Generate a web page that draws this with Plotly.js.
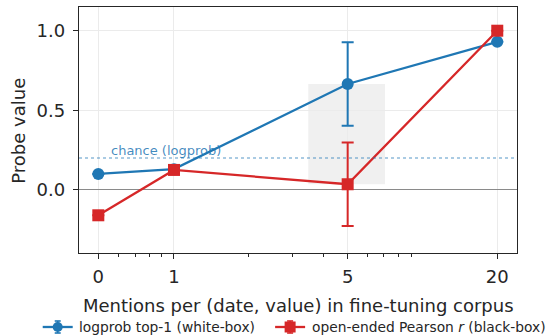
<!DOCTYPE html>
<html>
<head>
<meta charset="utf-8">
<script src="https://cdn.plot.ly/plotly-3.0.1.min.js"></script>
<style>html,body{margin:0;padding:0;background:#fff;}#chart{width:552px;height:336px;}</style>
</head>
<body>
<div id="chart"></div>
<script>
// ---- data ----
const mentions = [0, 1, 5, 20];
const tickLabels = ["0", "1", "5", "20"];
const logprobTop1 = [0.10, 0.13, 0.665, 0.93];
const logprobErr = [0, 0, 0.262, 0];
const pearsonR = [-0.16, 0.125, 0.035, 1.0];
const pearsonErr = [0, 0, 0.262, 0];
const chanceLevel = 0.2;
const minorLinear = [0.27, 0.485, 0.67, 0.84];
const minorLog = [2, 3, 4, 6, 7, 8, 9];
const seriesNames = ['logprob top-1 (white-box)', 'open-ended Pearson <i>r</i> (black-box)'];

// symlog-like axis transform (linear 0..1, log above 1)
const LIN = 0.3046;
function sx(x) { return x <= 1 ? x * LIN : LIN + Math.log10(x); }

const xs = mentions.map(sx);
const blue = '#1f77b4', red = '#d62728';
const ink = '#262626';
const font = 'DejaVu Sans, sans-serif';

const traces = [
  {
    x: xs, y: logprobTop1, type: 'scatter', mode: 'lines+markers',
    name: seriesNames[0],
    line: {color: blue, width: 2.3},
    marker: {color: blue, size: 12, symbol: 'circle'},
    error_y: {type: 'data', array: logprobErr, visible: true, color: blue, thickness: 2, width: 6}
  },
  {
    x: xs, y: pearsonR, type: 'scatter', mode: 'lines+markers',
    name: seriesNames[1],
    line: {color: red, width: 2.3},
    marker: {color: red, size: 12, symbol: 'square'},
    error_y: {type: 'data', array: pearsonErr, visible: true, color: red, thickness: 2, width: 6}
  }
];

// manual legend (pixel-sized shapes anchored in paper coords)
const legY = -0.3008;
function handle(cx, color, symbol) {
  const base = {xref: 'paper', yref: 'paper', xsizemode: 'pixel', ysizemode: 'pixel',
                xanchor: cx, yanchor: legY, layer: 'above'};
  const out = [
    Object.assign({}, base, {type: 'line', x0: -15, x1: 15, y0: 0, y1: 0, line: {color: color, width: 2.3}}),
    Object.assign({}, base, {type: 'line', x0: 0, x1: 0, y0: -6, y1: 6, line: {color: color, width: 1.6}}),
    Object.assign({}, base, {type: 'line', x0: -3, x1: 3, y0: 6, y1: 6, line: {color: color, width: 1.6}}),
    Object.assign({}, base, {type: 'line', x0: -3, x1: 3, y0: -6, y1: -6, line: {color: color, width: 1.6}})
  ];
  if (symbol === 'circle') {
    out.push(Object.assign({}, base, {type: 'circle', x0: -5, x1: 5, y0: -5, y1: 5, fillcolor: color, line: {width: 0}}));
  } else {
    out.push(Object.assign({}, base, {type: 'rect', x0: -5.5, x1: 5.5, y0: -5.5, y1: 5.5, fillcolor: color, line: {width: 0}}));
  }
  return out;
}

const i5 = mentions.indexOf(5);
const layout = {
  width: 552, height: 336,
  margin: {l: 79, r: 35, t: 7, b: 83},
  paper_bgcolor: '#fff', plot_bgcolor: '#fff',
  font: {family: font, color: ink, size: 18},
  showlegend: false,
  xaxis: {
    range: [sx(0) - 0.0777, sx(20) + 0.0794],
    tickmode: 'array', tickvals: xs, ticktext: tickLabels,
    ticks: 'outside', ticklen: 5, tickwidth: 1, tickcolor: ink,
    showline: true, mirror: true, linecolor: ink, linewidth: 1.2,
    showgrid: true, gridcolor: '#ebebeb', gridwidth: 1, zeroline: false,
    tickfont: {family: font, size: 18, color: ink},
    ticklabelstandoff: 2,
    minor: {
      tickmode: 'array',
      tickvals: minorLinear.map(sx).concat(minorLog.map(sx)),
      ticks: 'outside', ticklen: 3, tickwidth: 1, tickcolor: ink, showgrid: false
    }
  },
  yaxis: {
    range: [-0.397, 1.149],
    tickmode: 'array', tickvals: [0, 0.5, 1.0], ticktext: ['0.0', '0.5', '1.0'],
    ticks: 'outside', ticklen: 5, tickwidth: 1, tickcolor: ink,
    showline: true, mirror: true, linecolor: ink, linewidth: 1.2,
    showgrid: true, gridcolor: '#ebebeb', gridwidth: 1,
    zeroline: true, zerolinecolor: '#8a8a8a', zerolinewidth: 1,
    tickfont: {family: font, size: 18, color: ink},
    ticklabelstandoff: 4
  },
  shapes: [
    {type: 'rect', xref: 'x', yref: 'y', layer: 'below',
     x0: sx(3.47), x1: sx(7.07), y0: pearsonR[i5], y1: logprobTop1[i5],
     fillcolor: 'rgba(128,128,128,0.12)', line: {width: 0}},
    {type: 'line', xref: 'paper', yref: 'y', x0: 0, x1: 1, y0: chanceLevel, y1: chanceLevel,
     line: {color: 'rgba(31,119,180,0.75)', width: 1.2, dash: 'dot'}}
  ].concat(handle(-0.0486, blue, 'circle'), handle(0.4820, red, 'square')),
  annotations: [
    {xref: 'paper', yref: 'y', x: 0.068, y: chanceLevel, xanchor: 'left', yanchor: 'bottom',
     text: 'chance (logprob)', showarrow: false, yshift: -2,
     font: {family: font, size: 13, color: 'rgba(31,119,180,0.85)'}},
    {xref: 'paper', yref: 'paper', x: 0.5, y: -0.214, xanchor: 'center', yanchor: 'middle',
     text: 'Mentions per (date, value) in fine-tuning corpus', showarrow: false,
     font: {family: font, size: 18, color: ink}},
    {xref: 'paper', yref: 'paper', x: -0.137, y: 0.497, xanchor: 'center', yanchor: 'middle',
     text: 'Probe value', textangle: -90, showarrow: false,
     font: {family: font, size: 18, color: ink}},
    {xref: 'paper', yref: 'paper', x: -0.0045, y: legY, xanchor: 'left', yanchor: 'middle',
     text: seriesNames[0], showarrow: false, font: {family: font, size: 13.8, color: ink}},
    {xref: 'paper', yref: 'paper', x: 0.5285, y: legY, xanchor: 'left', yanchor: 'middle',
     text: seriesNames[1], showarrow: false, font: {family: font, size: 13.8, color: ink}}
  ]
};

Plotly.newPlot('chart', traces, layout, {displayModeBar: false, staticPlot: true});
</script>
</body>
</html>
